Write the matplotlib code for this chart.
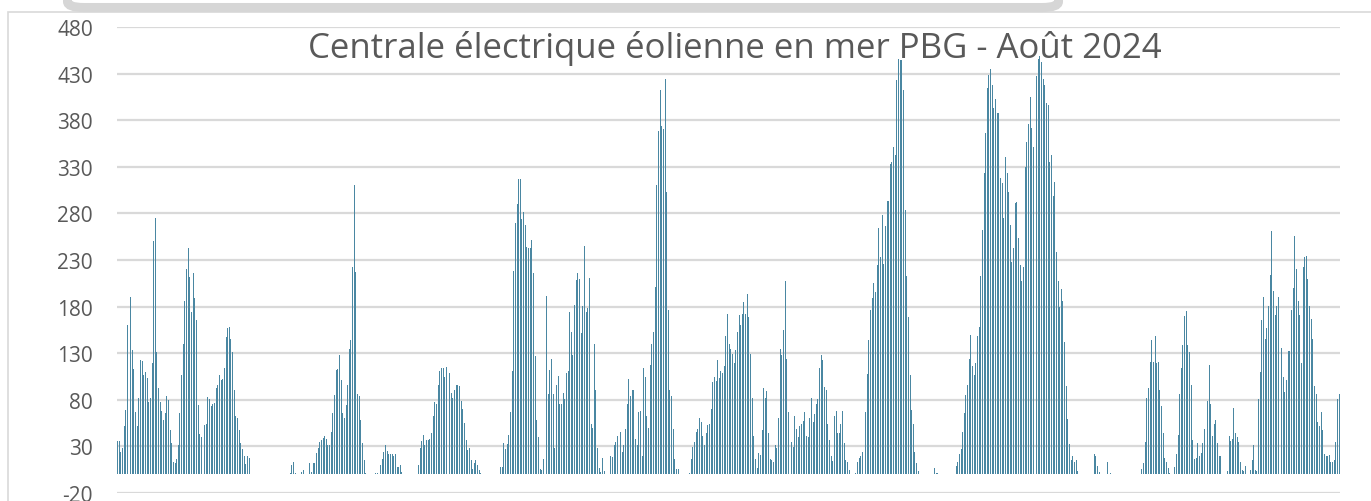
import numpy as np
import matplotlib
matplotlib.use("Agg")
import matplotlib.pyplot as plt
from matplotlib.patches import FancyBboxPatch, Rectangle

# production horaire (MW), août 2024, une liste par jour (24 h)
jour01 = [36, 36, 24, 28, 52, 69, 160, 218, 190, 133, 113, 67, 52, 82, 123, 122, 107, 110, 103, 78, 82, 120, 250, 275]
jour02 = [131, 93, 78, 68, 58, 66, 84, 80, 48, 34, 13, 12, 17, 31, 66, 107, 140, 186, 220, 243, 212, 174, 216, 189]
jour03 = [166, 74, 43, 40, 33, 53, 54, 83, 81, 73, 76, 77, 93, 96, 107, 101, 102, 114, 147, 157, 158, 145, 131, 91]
jour04 = [63, 61, 48, 34, 27, 20, 11, 20, 18, 0, 0, 0, 0, 0, 0, 0, 0, 0, 0, 0, 0, 0, 0, 0]
jour05 = [0, 0, 0, 0, 0, 0, 0, 0, 0, 2, 10, 13, 2, 0, 0, 0, 3, 5, 0, 0, 0, 12, 3, 12]
jour06 = [12, 23, 28, 35, 37, 39, 41, 38, 31, 32, 46, 66, 85, 112, 113, 128, 101, 66, 61, 74, 96, 135, 144, 223]
jour07 = [311, 217, 86, 84, 58, 34, 15, 1, 0, 0, 0, 0, 0, 1, 1, 0, 10, 16, 24, 31, 25, 22, 22, 22]
jour08 = [20, 22, 8, 8, 10, 3, 0, 0, 0, 0, 0, 0, 0, 0, 0, 10, 28, 36, 42, 32, 37, 37, 38, 44]
jour09 = [63, 78, 76, 96, 111, 114, 114, 104, 115, 111, 109, 87, 82, 90, 96, 96, 95, 79, 70, 55, 37, 26, 28, 15]
jour10 = [6, 12, 15, 10, 5, 2, 0, 0, 0, 0, 0, 0, 0, 0, 0, 0, 0, 8, 8, 34, 27, 33, 42, 67]
jour11 = [111, 218, 270, 290, 317, 317, 274, 282, 268, 244, 243, 243, 252, 216, 127, 58, 40, 6, 5, 16, 182, 191, 86, 112]
jour12 = [124, 86, 28, 96, 106, 76, 75, 87, 81, 109, 111, 174, 153, 128, 182, 209, 216, 210, 152, 181, 245, 174, 178, 211]
jour13 = [54, 50, 140, 90, 28, 7, 3, 18, 4, 0, 0, 0, 20, 19, 32, 35, 41, 51, 45, 24, 31, 49, 75, 102]
jour14 = [84, 91, 90, 38, 31, 67, 68, 20, 114, 105, 63, 50, 117, 140, 153, 201, 310, 368, 412, 374, 371, 424, 303, 176]
jour15 = [90, 84, 49, 17, 6, 6, 0, 0, 0, 0, 0, 0, 1, 16, 29, 35, 45, 49, 61, 56, 41, 31, 44, 53]
jour16 = [54, 70, 99, 104, 100, 123, 103, 111, 109, 116, 149, 172, 140, 135, 129, 120, 133, 153, 171, 160, 172, 185, 172, 193]
jour17 = [169, 129, 82, 41, 16, 7, 23, 21, 48, 93, 82, 89, 44, 16, 15, 13, 31, 28, 61, 135, 128, 155, 208, 124]
jour18 = [67, 40, 35, 29, 63, 49, 40, 52, 54, 57, 67, 41, 40, 61, 82, 56, 65, 76, 81, 114, 128, 123, 94, 91]
jour19 = [54, 37, 20, 14, 63, 68, 44, 44, 54, 68, 34, 15, 13, 5, 0, 0, 0, 2, 13, 18, 20, 24, 34, 67]
jour20 = [108, 144, 176, 189, 205, 196, 225, 264, 233, 278, 226, 266, 293, 293, 333, 335, 351, 343, 423, 446, 445, 445, 412, 284]
jour21 = [213, 169, 107, 69, 54, 24, 12, 4, 0, 0, 0, 0, 0, 0, 0, 0, 0, 7, 2, 2, 0, 0, 0, 0]
jour22 = [0, 0, 0, 0, 0, 0, 9, 13, 22, 27, 45, 66, 85, 96, 124, 150, 116, 107, 120, 149, 158, 213, 262, 323]
jour23 = [366, 415, 428, 435, 418, 393, 403, 388, 388, 318, 313, 275, 341, 323, 303, 268, 228, 243, 291, 292, 254, 225, 207, 222]
jour24 = [330, 357, 376, 405, 372, 351, 354, 427, 446, 449, 442, 424, 418, 399, 396, 335, 343, 299, 314, 239, 207, 180, 199, 186]
jour25 = [142, 95, 59, 33, 15, 20, 13, 15, 4, 0, 0, 0, 0, 0, 0, 0, 0, 0, 22, 20, 9, 3, 0, 0]
jour26 = [0, 0, 13, 11, 2, 0, 0, 0, 0, 0, 0, 0, 0, 0, 0, 0, 0, 0, 0, 0, 0, 0, 0, 6]
jour27 = [12, 35, 82, 93, 121, 144, 121, 148, 120, 121, 91, 73, 44, 18, 13, 7, 1, 0, 0, 8, 22, 42, 86, 114]
jour28 = [139, 170, 175, 139, 131, 96, 37, 17, 18, 34, 20, 23, 34, 49, 48, 79, 117, 76, 41, 54, 58, 34, 20, 20]
jour29 = [0, 0, 0, 4, 41, 36, 38, 71, 44, 40, 35, 13, 5, 4, 9, 0, 0, 5, 15, 31, 5, 4, 81, 110]
jour30 = [166, 190, 145, 157, 181, 214, 261, 197, 171, 181, 190, 173, 136, 105, 88, 101, 132, 132, 176, 200, 256, 220, 186, 171]
jour31 = [120, 222, 233, 234, 210, 181, 167, 145, 95, 86, 56, 52, 67, 48, 22, 20, 20, 21, 13, 13, 15, 35, 81, 86]

jours = [jour01, jour02, jour03, jour04, jour05, jour06, jour07, jour08, jour09, jour10,
         jour11, jour12, jour13, jour14, jour15, jour16, jour17, jour18, jour19, jour20,
         jour21, jour22, jour23, jour24, jour25, jour26, jour27, jour28, jour29, jour30, jour31]
valeurs = np.concatenate(jours)
heures = np.arange(len(valeurs))

titre = "Centrale électrique éolienne en mer PBG - Août 2024"
yticks = np.arange(-20, 481, 50)

plt.rcParams['font.family'] = ['Open Sans', 'DejaVu Sans']
plt.rcParams['axes.unicode_minus'] = False

fig = plt.figure(figsize=(13.71, 5.02), dpi=100)
ax = fig.add_axes([0.0851, 0.0159, 0.8923, 0.9283])

ax.bar(heures, valeurs, width=0.6, color="#4a87a2", linewidth=0, zorder=3)

ax.set_xlim(-0.5, len(valeurs) - 0.5)
ax.set_ylim(-20, 480)
ax.set_yticks(yticks)
ax.set_xticks([])
ax.yaxis.grid(True, color="#d9d9d9", linewidth=1.6, zorder=0)
ax.tick_params(axis="y", length=0, pad=17, labelsize=15, labelcolor="#595959")
for lab in ax.get_yticklabels():
    lab.set_va("center_baseline")
for s in ax.spines.values():
    s.set_visible(False)

ax.text(0.505, 0.955, titre, transform=ax.transAxes, ha="center", va="center",
        fontsize=25, color="#595959", zorder=5)

# cadre de la zone de graphique (coupé à droite et en bas)
fig.add_artist(Rectangle((8 / 1371, -0.1), 1.2, 1 - 12.5 / 502 + 0.1,
                         transform=fig.transFigure, fill=False,
                         edgecolor="#d9d9d9", linewidth=1.2))

# bord gris de la zone de texte en haut (coupée par le haut de l'image)
fig.add_artist(FancyBboxPatch((67.5 / 1371, 1 - 8.5 / 502), (1058.5 - 67.5) / 1371, 0.2,
                              boxstyle="round,pad=0,rounding_size=0.012",
                              transform=fig.transFigure, fill=True, facecolor="white",
                              edgecolor="#d6d6d6", linewidth=6.5, zorder=10))

fig.savefig("out.png", dpi=100)
